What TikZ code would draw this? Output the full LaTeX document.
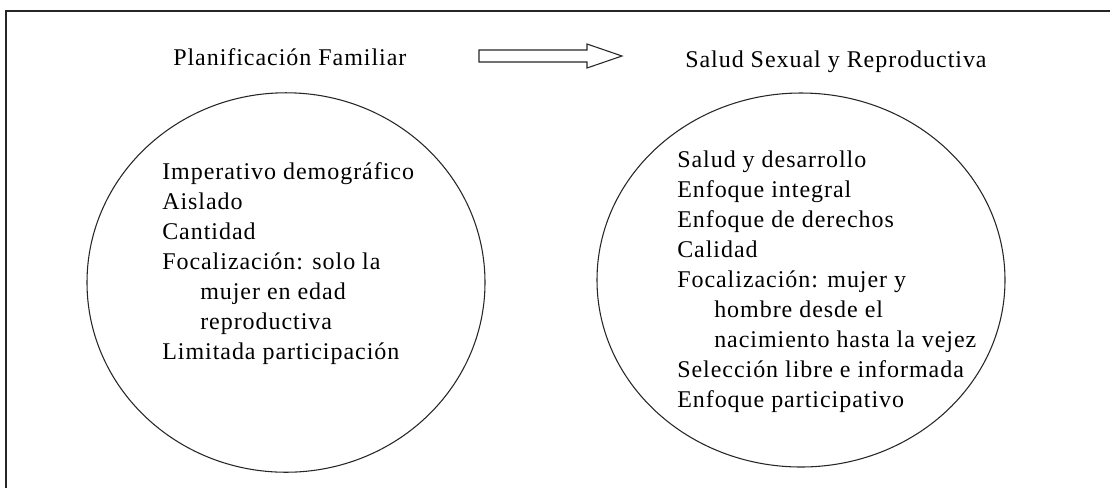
\documentclass[tikz,border=0pt]{standalone}
\usepackage{fontspec}
\setmainfont{Liberation Serif}[LetterSpace=4]
\usetikzlibrary{shapes.geometric}
\begin{document}
\begin{tikzpicture}[x=0.75pt,y=-0.75pt,
  line/.style={draw=black!85,line width=0.8pt},
  txt/.style={anchor=base west,inner sep=0pt,font=\fontsize{18}{21}\selectfont},
  ttl/.style={anchor=base west,inner sep=0pt,font=\fontsize{18}{21}\selectfont}]
\useasboundingbox (0,0) rectangle (1110,487);
% frame (cropped)
\draw[line] (6,490) -- (6,11) -- (1115,11);
% titles
\node[ttl] (t1) at (173,65) {Planificación Familiar};
\node[ttl] (t2) at (685,67) {Salud Sexual y Reproductiva};
% block arrow
\draw[line,fill=white] (479,50) -- (587,50) -- (587,44) -- (622,56) -- (587,68) -- (587,62) -- (479,62) -- cycle;
% circles
\node[line,ellipse,inner sep=0pt,minimum width=298.5pt,minimum height=284.6pt] (c1) at (286,282.5) {};
\node[line,ellipse,inner sep=0pt,minimum width=306pt,minimum height=280.5pt] (c2) at (801,280) {};
% left list
\node[txt] (l1) at (162,179) {Imperativo demográfico};
\node[txt] (l2) at (162,209) {Aislado};
\node[txt] (l3) at (162,239) {Cantidad};
\node[txt] (l4) at (162,269) {Focalización: solo la};
\node[txt] (l5) at (200,299) {mujer en edad};
\node[txt] (l6) at (200,329) {reproductiva};
\node[txt] (l7) at (162,359) {Limitada participación};
% right list
\node[txt] (r1) at (677,167) {Salud y desarrollo};
\node[txt] (r2) at (677,197) {Enfoque integral};
\node[txt] (r3) at (677,227) {Enfoque de derechos};
\node[txt] (r4) at (677,257) {Calidad};
\node[txt] (r5) at (677,287) {Focalización: mujer y};
\node[txt] (r6) at (714,317) {hombre desde el};
\node[txt] (r7) at (714,347) {nacimiento hasta la vejez};
\node[txt] (r8) at (677,377) {Selección libre e informada};
\node[txt] (r9) at (677,407) {Enfoque participativo};
\end{tikzpicture}
\end{document}
